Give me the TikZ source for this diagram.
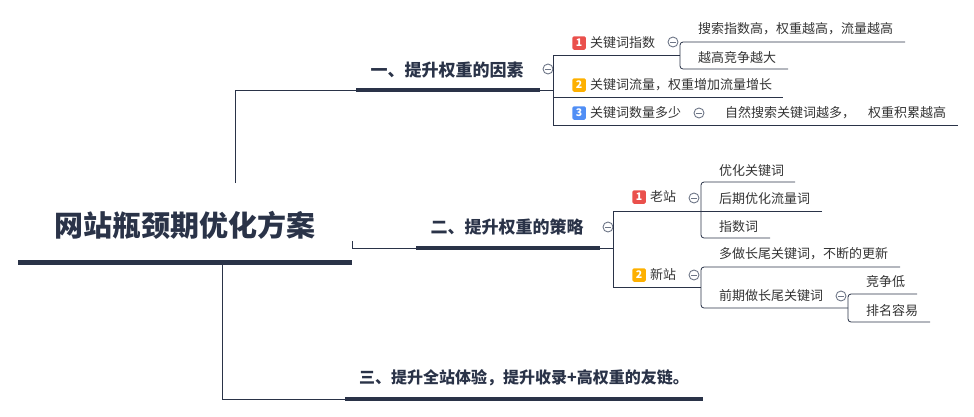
\documentclass[tikz,border=0pt]{standalone}
\usepackage{fontspec}
\setmainfont{Noto Sans CJK SC}
\usetikzlibrary{positioning}
\definecolor{mapnavy}{RGB}{42,51,72}
\definecolor{maptext}{RGB}{51,51,51}
\definecolor{mapred}{RGB}{234,80,76}
\definecolor{maporange}{RGB}{253,176,0}
\definecolor{mapblue}{RGB}{80,142,245}
\definecolor{mapfold}{RGB}{110,118,135}

\tikzset{
  rootbox/.style={font=\fontsize{29}{34}\selectfont\bfseries, text=mapnavy, inner sep=0pt},
  topic/.style={font=\fontsize{17}{20}\selectfont\bfseries, text=mapnavy, inner sep=0pt},
  leaf/.style={font=\fontsize{13}{15}\selectfont, text=maptext, inner sep=0pt, anchor=west},
  badge/.style={fill=#1, text=white, font=\fontsize{10.5}{12}\selectfont\bfseries,
    minimum size=13.5pt, inner sep=0pt, rounded corners=1.5pt},
  fold/.style={circle, draw=mapfold, line width=0.9pt, minimum size=10pt, inner sep=0pt,
    path picture={\draw[mapfold, line width=0.9pt]
      ([xshift=-2.6pt]path picture bounding box.center) -- ([xshift=2.6pt]path picture bounding box.center);}},
  thin/.style={draw=mapnavy, line width=0.8pt},
  bar/.style={draw=mapnavy, line width=4pt},
  bracket/.style={thin, rounded corners=3pt}
}

\begin{document}
\begin{tikzpicture}[x=1pt,y=-1pt]
  \useasboundingbox (0,0) rectangle (974,416);

  % central topic
  \node[rootbox] (root) at (185,225) {网站瓶颈期优化方案};

  % main topics
  \node[topic] (t1) at (447,70) {一、提升权重的因素};
  \node[topic] (t2) at (507,227) {二、提升权重的策略};
  \node[topic, anchor=west, font=\fontsize{16}{20}\selectfont\bfseries] (t3) at (359,378) {三、提升全站体验，提升收录+高权重的友链。};

  % subtopics
  \node[leaf] (k1) at (590,43) {关键词指数};
  \node[leaf] (k11) at (698,29) {搜索指数高，权重越高，流量越高};
  \node[leaf] (k12) at (698,58) {越高竞争越大};
  \node[leaf] (k2) at (590,85) {关键词流量，权重增加流量增长};
  \node[leaf] (k3) at (590,113) {关键词数量多少};
  \node[leaf] (k31) at (725,113) {自然搜索关键词越多，\quad 权重积累越高};
  \node[leaf] (s1) at (650,197) {老站};
  \node[leaf] (s11) at (719,171) {优化关键词};
  \node[leaf] (s12) at (719,199) {后期优化流量词};
  \node[leaf] (s13) at (719,227) {指数词};
  \node[leaf] (s2) at (650,275) {新站};
  \node[leaf] (s21) at (719,254) {多做长尾关键词，不断的更新};
  \node[leaf] (s22) at (719,296) {前期做长尾关键词};
  \node[leaf] (s221) at (866,282) {竞争低};
  \node[leaf] (s222) at (866,311) {排名容易};

  % priority markers
  \node[badge=mapred, left=4pt of k1] (bk1) {1};
  \node[badge=maporange, left=4pt of k2] (bk2) {2};
  \node[badge=mapblue, left=4pt of k3] (bk3) {3};
  \node[badge=mapred, left=4pt of s1] (bs1) {1};
  \node[badge=maporange, left=4pt of s2] (bs2) {2};

  % collapse buttons
  \foreach \x/\y [count=\i] in {548/69,608/227,673/42,699/113,694/198,694/275,841/296}
    \node[fold] (fold\i) at (\x,\y) {};

  % turning and end points of the lines
  \foreach \n/\x/\y in {rl/18/262, rr/352/262, r1/235/183, r2/352/241, r3/222/262,
      u1a/356/90, u1b/540/90, j1/553/90, j1t/553/55, j1b/553/125,
      l1e/680/55, l2s/553/97, l2e/783/97, l3e/958/125,
      k1t/680/42, k1b/680/69, m1e/905/42, m2e/788/69,
      u2a/416/248, u2b/600/248, j2/613/248, j2t/613/211, j2b/613/287,
      p1t/701/182, p1b/701/238, n1e/795/182, n2e/822/211, n3e/770/238,
      p2/701/287, p2t/701/267, p2b/701/308, o1e/900/267, o2e/848/308,
      p3t/848/294, p3b/848/322, q1e/917/294, q2e/930/322,
      u3a/345/399, u3b/703/399}
    \coordinate (\n) at (\x,\y);

  % underlines
  \draw[draw=mapnavy, line width=5pt] (rl) -- (rr);
  \draw[bar] (u1a) -- (u1b);
  \draw[bar] (u2a) -- (u2b);
  \draw[bar] (u3a) -- (u3b);

  % central topic to main topics
  \draw[thin] (r1) |- (u1a);
  \draw[thin] (r2) |- (u2a);
  \draw[thin] (r3) |- (u3a);

  % first main topic
  \draw[thin] (u1b) -- (j1);
  \draw[thin] (l1e) -- (j1t) -- (j1b) -- (l3e);
  \draw[thin] (l2s) -- (l2e);
  \draw[bracket] (m1e) -- (k1t) -- (k1b) -- (m2e);

  % second main topic
  \draw[thin] (u2b) -- (j2);
  \draw[thin] (n2e) -- (j2t) -- (j2b) -- (p2);
  \draw[bracket] (n1e) -- (p1t) -- (p1b) -- (n3e);
  \draw[bracket] (o1e) -- (p2t) -- (p2b) -- (o2e);
  \draw[bracket] (q1e) -- (p3t) -- (p3b) -- (q2e);
\end{tikzpicture}
\end{document}
